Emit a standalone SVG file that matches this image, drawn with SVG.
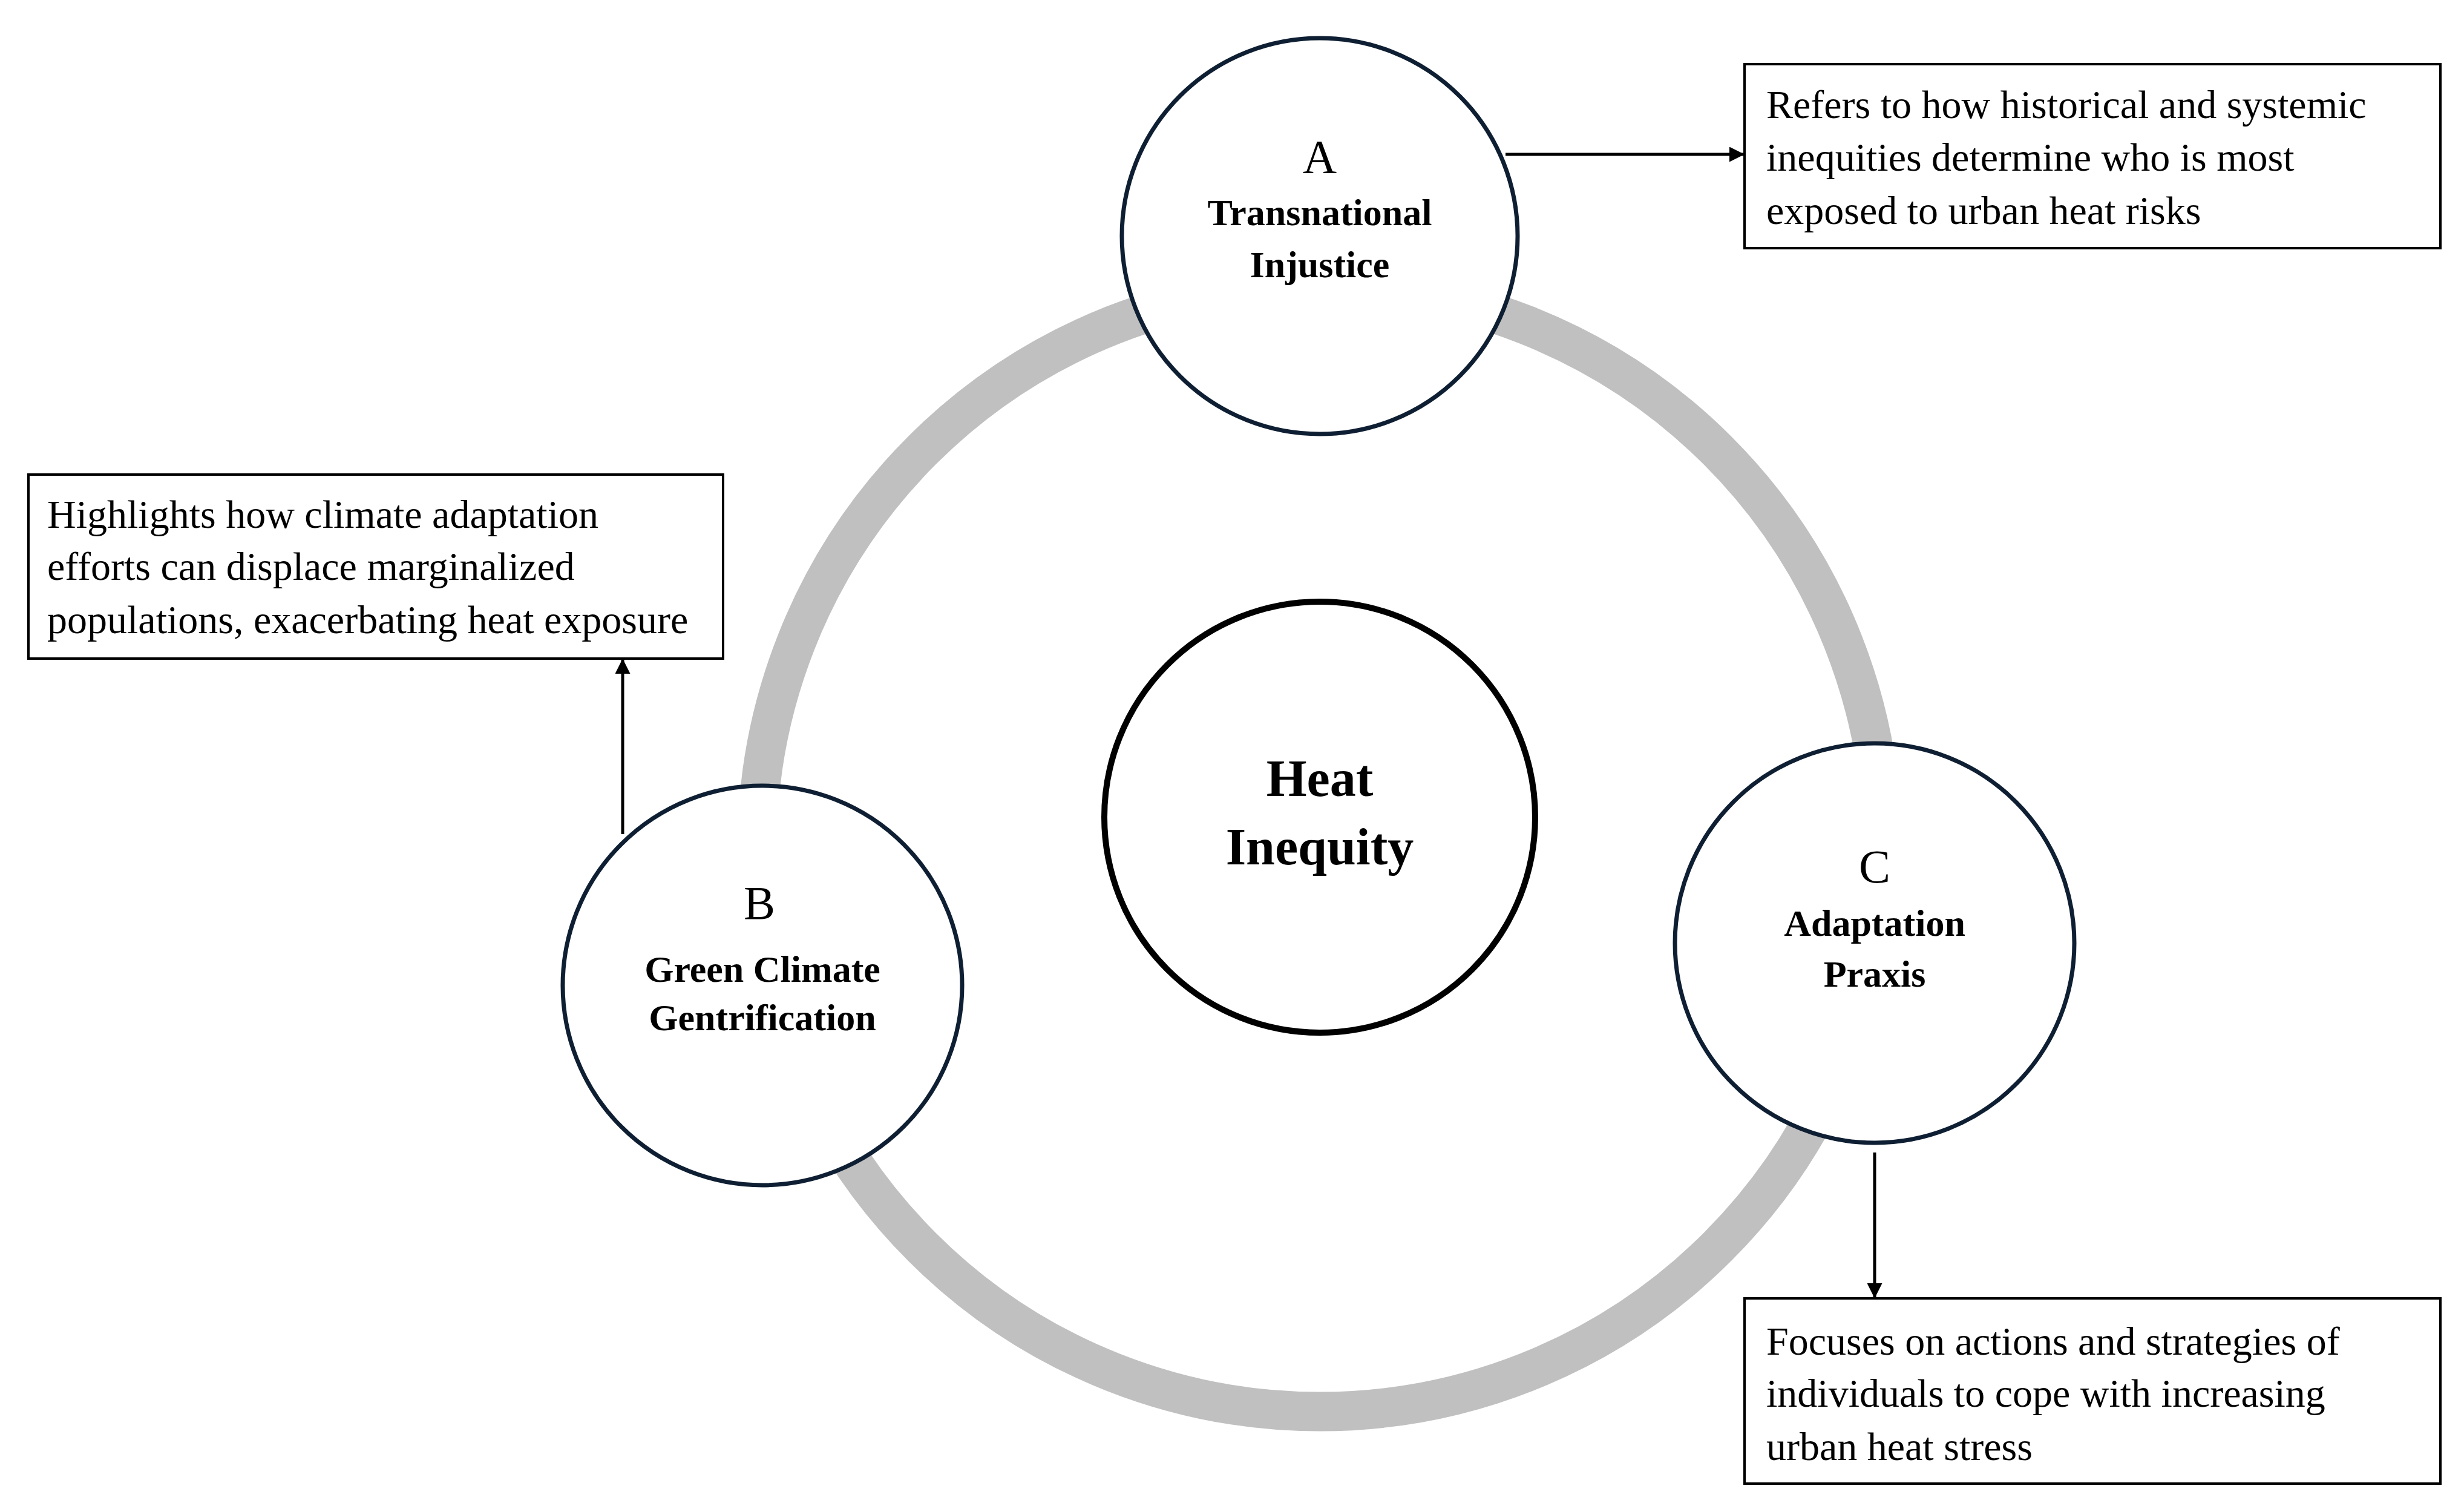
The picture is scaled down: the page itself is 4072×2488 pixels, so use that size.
<svg xmlns="http://www.w3.org/2000/svg" width="4072" height="2488" viewBox="0 0 4072 2488">
<style>
.node{fill:#fff;stroke:#0f1f33;stroke-width:7}
.box{fill:#fff;stroke:#000;stroke-width:4}
.t{font-family:"Liberation Serif",serif;font-size:66px;fill:#000}
.l{font-family:"Liberation Serif",serif;font-size:78px;fill:#000;text-anchor:middle}
.b{font-family:"Liberation Serif",serif;font-size:62px;font-weight:bold;fill:#000;text-anchor:middle}
.h{font-family:"Liberation Serif",serif;font-size:86px;font-weight:bold;fill:#000;text-anchor:middle}
.c{stroke:#000;stroke-width:5;fill:none;marker-end:url(#ah)}
</style>
<defs><marker id="ah" viewBox="0 0 10 10" refX="10" refY="5" markerWidth="5" markerHeight="5" orient="auto" markerUnits="strokeWidth"><path d="M0,0L10,5L0,10z" fill="#000"/></marker></defs>
<rect width="4072" height="2488" fill="#fff"/>
<circle id="ring" cx="2181" cy="1402" r="930" fill="none" stroke="#c0c0c0" stroke-width="65"/>
<g id="center"><circle cx="2181" cy="1350" r="356" fill="#fff" stroke="#000" stroke-width="10"/>
<text class="h" x="2181" y="1315">Heat</text><text class="h" x="2181" y="1428">Inequity</text></g>
<g id="connectors">
<line class="c" x1="2488" y1="255" x2="2883" y2="255"/>
<line class="c" x1="1029" y1="1378" x2="1029" y2="1088"/>
<line class="c" x1="3098" y1="1904" x2="3098" y2="2145"/>
</g>
<g id="nodeA"><circle class="node" cx="2181" cy="390" r="327"/>
<text class="l" x="2181" y="285">A</text><text class="b" x="2181" y="372">Transnational</text><text class="b" x="2181" y="458">Injustice</text></g>
<g id="nodeB"><circle class="node" cx="1260" cy="1628" r="330"/>
<text class="l" x="1255" y="1518">B</text><text class="b" x="1260" y="1622">Green Climate</text><text class="b" x="1260" y="1702">Gentrification</text></g>
<g id="nodeC"><circle class="node" cx="3098" cy="1558" r="330"/>
<text class="l" x="3098" y="1458">C</text><text class="b" x="3098" y="1546">Adaptation</text><text class="b" x="3098" y="1630">Praxis</text></g>
<g id="boxA"><rect class="box" x="2883" y="106" width="1150" height="304"/>
<text class="t" x="2919" y="195">Refers to how historical and systemic</text>
<text class="t" x="2919" y="282">inequities determine who is most</text>
<text class="t" x="2919" y="370">exposed to urban heat risks</text></g>
<g id="boxB"><rect class="box" x="47" y="784" width="1148" height="304"/>
<text class="t" x="78" y="872">Highlights how climate adaptation</text>
<text class="t" x="78" y="958">efforts can displace marginalized</text>
<text class="t" x="78" y="1046">populations, exacerbating heat exposure</text></g>
<g id="boxC"><rect class="box" x="2883" y="2145" width="1150" height="306"/>
<text class="t" x="2919" y="2238">Focuses on actions and strategies of</text>
<text class="t" x="2919" y="2324">individuals to cope with increasing</text>
<text class="t" x="2919" y="2412">urban heat stress</text></g>
</svg>
